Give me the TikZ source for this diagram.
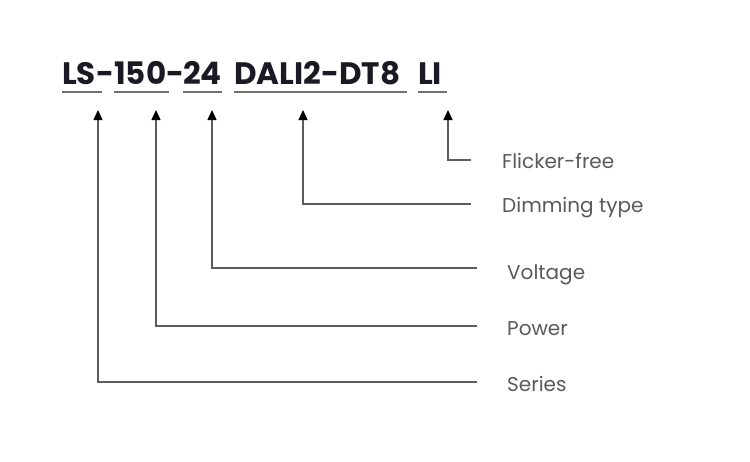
\documentclass[tikz,border=0pt]{standalone}
\usepackage{fontspec}
\setmainfont{Poppins}
\usetikzlibrary{arrows.meta,calc}
\definecolor{titlec}{HTML}{1A1A24}
\definecolor{ulc}{HTML}{707070}
\definecolor{linec}{HTML}{5C5C5C}
\definecolor{labelc}{HTML}{5A5A5A}
\tikzset{
  seg/.style={anchor=base west, inner sep=0pt, text=titlec, font=\fontsize{31}{31}\selectfont\bfseries},
  uline/.style={draw=ulc, line width=2pt},
  conn/.style={draw=linec, line width=1.4pt, -{Triangle[length=10pt,width=9pt,fill=black,color=black]}},
  lbl/.style={anchor=base west, inner sep=0pt, text=labelc, font=\fontsize{20}{20}\selectfont},
}
\begin{document}
\begin{tikzpicture}[x=1pt,y=-1pt]
\useasboundingbox[fill=white] (0,0) rectangle (750,461);
% title segments
\node[seg] (ls) at (62,84) {LS};
\node[seg] (d1) at (ls.base east) {-};
\node[seg] (p150) at (114,84) {150};
\node[seg] (d2) at (p150.base east) {-};
\node[seg] (v24) at (183,84) {24};
\node[seg] (dali) at (234,84) {DALI2-DT8};
\node[seg] (li) at (418,84) {LI};
% underlines
\draw[uline] (62,92) -- (102,92);
\draw[uline] (114,92) -- (169,92);
\draw[uline] (183,92) -- (222,92);
\draw[uline] (234,92) -- (407,92);
\draw[uline] (418,92) -- (447,92);
% arrow tips
\coordinate (tls) at (98,110);
\coordinate (t150) at (156,110);
\coordinate (t24) at (212,110);
\coordinate (tdali) at (303,110);
\coordinate (tli) at (448,110);
% line ends
\coordinate (eli) at (471,160);
\coordinate (edali) at (471,204);
\coordinate (e24) at (477,268);
\coordinate (e150) at (477,326);
\coordinate (els) at (477,382);
% labels
\node[lbl] (lli) at (502,168) {Flicker-free};
\node[lbl] (ldali) at (502,212) {Dimming type};
\node[lbl] (l24) at (507,279) {Voltage};
\node[lbl] (l150) at (507,335) {Power};
\node[lbl] (lls) at (507,391) {Series};
% connectors
\draw[conn] (eli) -| (tli);
\draw[conn] (edali) -| (tdali);
\draw[conn] (e24) -| (t24);
\draw[conn] (e150) -| (t150);
\draw[conn] (els) -| (tls);
\end{tikzpicture}
\end{document}
